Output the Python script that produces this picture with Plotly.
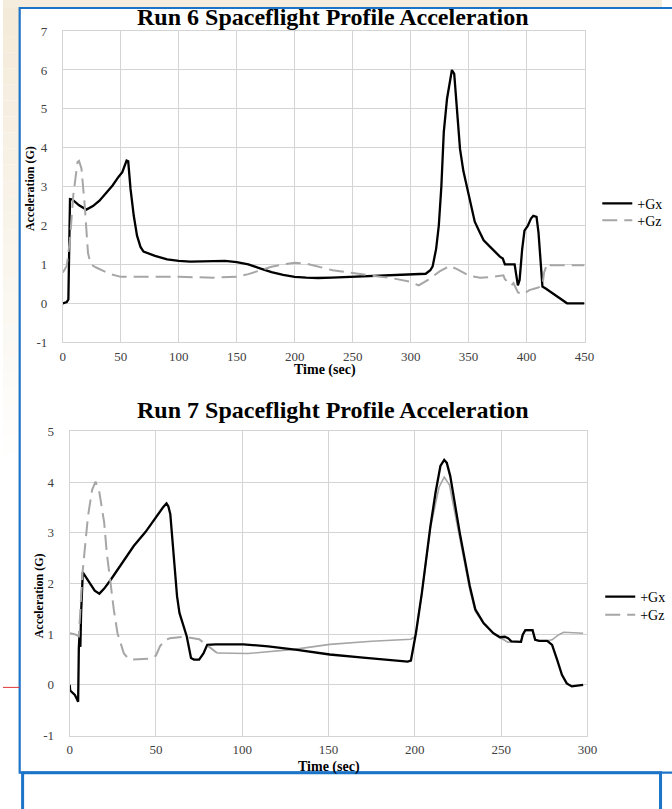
import plotly.graph_objects as go

# ---------------- data: Run 6 ----------------
run6_gx_t = [0, 3.4, 4.8, 5.4, 5.8, 6.2, 8.2, 14, 20.3, 26, 31.6, 37, 42.9, 48, 51.3, 55, 56.4,
             58.4, 61.2, 64, 67, 69.6, 79.5, 90, 100, 110, 120, 130, 140, 150, 160, 170, 180,
             190, 200, 210, 220, 232, 250, 270, 290, 300, 313, 317, 319, 322, 324.3, 326.5,
             328.6, 331.4, 334, 335.6, 337.6, 339.5, 342.6, 345.5, 348.3, 352, 355.3, 359.6,
             363, 368.6, 374.2, 377, 379.5, 381.3, 386.9, 389.7, 392.5, 394, 396.2, 398.2,
             401, 403.8, 405.8, 408.6, 410.3, 412.3, 413.7, 416.5, 423.6, 434.9, 450]
run6_gx_v = [0, 0.03, 0.1, 0.9, 1.8, 2.68, 2.67, 2.52, 2.41, 2.5, 2.64, 2.82, 3.03, 3.25, 3.37,
             3.67, 3.65, 2.94, 2.25, 1.74, 1.45, 1.33, 1.22, 1.13, 1.09, 1.07, 1.08, 1.09, 1.09,
             1.06, 1.0, 0.9, 0.8, 0.73, 0.68, 0.66, 0.65, 0.66, 0.68, 0.71, 0.74, 0.75, 0.76,
             0.85, 0.95, 1.4, 2.0, 3.0, 4.4, 5.26, 5.8, 6.0, 5.9, 5.2, 3.97, 3.4, 3.03, 2.5,
             2.1, 1.83, 1.62, 1.45, 1.28, 1.2, 1.15, 1.0, 1.0, 1.0, 0.46, 0.6, 1.39, 1.87, 1.99,
             2.18, 2.25, 2.22, 1.82, 0.96, 0.43, 0.38, 0.23, 0, 0]

run6_gz_t = [0, 3.4, 6.2, 9, 12.7, 14, 16.1, 18.9, 21.7, 24, 28.8, 40, 50, 75, 100, 130, 150,
             160, 170, 180, 190, 200, 210, 220, 232.7, 250, 270, 285, 300, 307, 315, 325, 333.6,
             340, 351, 360, 370.8, 376, 380, 381.3, 384.1, 386.9, 388.7, 391.1, 392.6, 396.8,
             402.4, 409.5, 413.7, 415.1, 417.9, 420.7, 450]
run6_gz_v = [0.79, 0.96, 1.65, 2.77, 3.63, 3.66, 3.46, 2.51, 1.3, 1.0, 0.92, 0.76, 0.68, 0.68,
             0.68, 0.66, 0.68, 0.75, 0.85, 0.94, 1.0, 1.04, 1.02, 0.95, 0.85, 0.78, 0.7, 0.64,
             0.55, 0.46, 0.6, 0.82, 0.96, 0.88, 0.7, 0.66, 0.68, 0.7, 0.72, 0.62, 0.53, 0.46,
             0.52, 0.36, 0.28, 0.23, 0.34, 0.4, 0.45, 0.79, 1.03, 0.98, 0.98]

# ---------------- data: Run 7 ----------------
run7_gx_t = [0, 0.3, 3, 4.9, 5.3, 5.8, 6.2, 6.6, 7.6, 11.6, 14.5, 17.2, 20, 23.9, 30, 37.1, 44,
             50.4, 54, 56.1, 57.2, 58.3, 60.8, 62.2, 63.6, 66.5, 67.8, 70.3, 72, 75, 77.5, 79.7,
             84.5, 100.6, 115, 131.8, 150.7, 170, 185, 195.8, 197.7, 200.6, 204, 209, 212,
             214.8, 217, 218.5, 220.5, 226, 231.8, 235, 239.8, 245.5, 249.3, 252.1, 254, 255.9,
             261.5, 262.5, 264, 268.2, 269.7, 272, 276.7, 279.5, 282.4, 285.2, 288, 290.9, 297.5]
run7_gx_v = [0, -0.11, -0.2, -0.33, 0.73, 1.05, 0.75, 1.4, 2.22, 2.01, 1.86, 1.8, 1.9, 2.08,
             2.38, 2.74, 3.02, 3.33, 3.5, 3.58, 3.52, 3.37, 2.21, 1.75, 1.42, 1.09, 0.96, 0.53,
             0.5, 0.5, 0.62, 0.79, 0.8, 0.8, 0.76, 0.69, 0.6, 0.54, 0.49, 0.46, 0.48, 1.02, 1.8,
             3.13, 3.8, 4.32, 4.44, 4.38, 4.12, 3.0, 1.95, 1.49, 1.22, 1.02, 0.94, 0.95, 0.92,
             0.86, 0.85, 0.99, 1.08, 1.08, 0.89, 0.87, 0.87, 0.79, 0.5, 0.2, 0.03, -0.03, 0.0]

# Gz of Run 7: first part drawn dashed, later part rendered as a thin solid line
run7_gz_t = [0, 2.8, 5.3, 7.4, 10.6, 13, 15, 17.2, 20, 21.5, 23.9, 25.5, 27.7, 29.5, 31.4, 34,
             36.2, 47.5, 50, 52.3, 55, 58, 66.5, 75, 80.7, 85.4,
             103.4, 130, 150.7, 175, 197.7, 200, 201, 204, 209, 214, 217, 220, 226, 232, 235,
             240, 245.5, 249.3, 252, 254, 256, 261.5, 262.5, 264, 268.2, 269.7, 272, 276.7,
             279.5, 283.4, 286.2, 297.5]
run7_gz_v = [1.02, 1.0, 0.96, 2.2, 3.33, 3.85, 4.01, 3.8, 3.2, 2.6, 1.95, 1.5, 1.02, 0.8, 0.62,
             0.52, 0.5, 0.52, 0.58, 0.76, 0.88, 0.92, 0.95, 0.9, 0.76, 0.63,
             0.62, 0.7, 0.8, 0.86, 0.9, 0.95, 1.1, 1.8, 3.1, 3.9, 4.1, 3.95, 2.9, 1.85, 1.45,
             1.2, 1.0, 0.92, 0.88, 0.84, 0.85, 0.85, 0.99, 1.07, 1.07, 0.89, 0.87, 0.87, 0.89,
             0.99, 1.04, 1.02]
run7_gz_dash_end = 85.4

titles = ["Run 6 Spaceflight Profile Acceleration", "Run 7 Spaceflight Profile Acceleration"]
x_title = "Time (sec)"
y_title = "Acceleration (G)"
series_names = ["+Gx", "+Gz"]
run6_yticks = [-1, 0, 1, 2, 3, 4, 5, 6, 7]
run7_yticks = [-1, 0, 1, 2, 3, 4, 5]
run6_xticks = [0, 50, 100, 150, 200, 250, 300, 350, 400, 450]
run7_xticks = [0, 50, 100, 150, 200, 250, 300]

# ---------------- layout helpers ----------------
W, H = 672, 809
# the page is photographed slightly compressed vertically; compensate target rows
VSCALE, VOFF = 0.978, 9.0

def px(x):
    return x / W

def py(t):
    y = (t - VOFF) / VSCALE
    return 1 - y / H

SERIF = "Liberation Serif, Times New Roman, serif"
BLACK = "#000000"
GRAY = "#a6a6a6"
GRID = "#d4d4d4"
BLUE = "#1c74c8"
DASH = "15px,7px"

fig = go.Figure()

fig.add_trace(go.Scatter(x=run6_gx_t, y=run6_gx_v, mode="lines", name=series_names[0],
                         line=dict(color=BLACK, width=2.3), xaxis="x", yaxis="y", legend="legend"))
fig.add_trace(go.Scatter(x=run6_gz_t, y=run6_gz_v, mode="lines", name=series_names[1],
                         line=dict(color=GRAY, width=2, dash=DASH), xaxis="x", yaxis="y", legend="legend3"))

split = run7_gz_t.index(run7_gz_dash_end)
fig.add_trace(go.Scatter(x=run7_gz_t[split:], y=run7_gz_v[split:], mode="lines", name=series_names[1],
                         line=dict(color=GRAY, width=1.6), xaxis="x2", yaxis="y2",
                         legend="legend4", showlegend=False))
fig.add_trace(go.Scatter(x=run7_gx_t, y=run7_gx_v, mode="lines", name=series_names[0],
                         line=dict(color=BLACK, width=2.3), xaxis="x2", yaxis="y2", legend="legend2"))
fig.add_trace(go.Scatter(x=run7_gz_t[:split + 1], y=run7_gz_v[:split + 1], mode="lines", name=series_names[1],
                         line=dict(color=GRAY, width=2, dash=DASH), xaxis="x2", yaxis="y2", legend="legend4"))

tickfont = dict(family=SERIF, size=13, color="#404040")
common_x = dict(showgrid=True, gridcolor=GRID, gridwidth=1, zeroline=False, showline=True,
                linecolor=GRID, mirror=True, ticks="", tickfont=tickfont,
                ticklabelstandoff=2, fixedrange=True)
common_y = dict(showgrid=True, gridcolor=GRID, gridwidth=1, zeroline=False, showline=True,
                linecolor=GRID, mirror=True, ticks="", tickfont=tickfont,
                ticklabelstandoff=12, fixedrange=True)

def lab(v):
    return "-" + str(abs(v)) if v < 0 else str(v)

# background decoration: beige gradient strips, blue frames, red mark
shapes = []
steps = 30
for i in range(steps):
    f = i / (steps - 1)
    r = int(244 + (255 - 244) * f)
    g = int(234 + (255 - 234) * f)
    b = int(216 + (255 - 216) * f)
    t0 = -10 + 480 * i / steps
    t1 = -10 + 480 * (i + 1) / steps
    shapes.append(dict(type="rect", xref="paper", yref="paper", x0=px(0), x1=px(17),
                       y0=py(t1), y1=py(t0), line=dict(width=0), fillcolor=f"rgb({r},{g},{b})",
                       layer="below"))
shapes.append(dict(type="rect", xref="paper", yref="paper", x0=px(0), x1=px(W), y0=py(10), y1=py(-10),
                   line=dict(width=0), fillcolor="rgb(244,236,221)", layer="below"))
shapes.append(dict(type="rect", xref="paper", yref="paper", x0=px(17), x1=px(W + 20), y0=py(772), y1=py(10),
                   line=dict(color=BLUE, width=2.2), fillcolor="rgba(0,0,0,0)", layer="below"))
shapes.append(dict(type="rect", xref="paper", yref="paper", x0=px(20), x1=px(670.5), y0=py(H + 30), y1=py(772),
                   line=dict(color=BLUE, width=3), fillcolor="rgba(0,0,0,0)", layer="below"))
shapes.append(dict(type="line", xref="paper", yref="paper", x0=px(0), x1=px(17), y0=py(687), y1=py(687),
                   line=dict(color="#e0363a", width=1), layer="below"))

ann = []
tfont = dict(family=SERIF, size=24, color="#000000")
ann.append(dict(text="<b>" + titles[0] + "</b>", xref="paper", yref="paper", x=px(336), y=py(19),
                xanchor="center", yanchor="middle", showarrow=False, font=tfont))
ann.append(dict(text="<b>" + titles[1] + "</b>", xref="paper", yref="paper", x=px(336), y=py(411),
                xanchor="center", yanchor="middle", showarrow=False, font=tfont))
afont = dict(family=SERIF, size=14, color="#000000")
ann.append(dict(text="<b>" + x_title + "</b>", xref="paper", yref="paper", x=px(328), y=py(371),
                xanchor="center", yanchor="middle", showarrow=False, font=afont))
ann.append(dict(text="<b>" + x_title + "</b>", xref="paper", yref="paper", x=px(332), y=py(766),
                xanchor="center", yanchor="middle", showarrow=False, font=afont))
yfont = dict(family=SERIF, size=12, color="#000000")
ann.append(dict(text="<b>" + y_title + "</b>", xref="paper", yref="paper", x=px(27), y=py(190),
                xanchor="center", yanchor="middle", showarrow=False, font=yfont, textangle=-90))
ann.append(dict(text="<b>" + y_title + "</b>", xref="paper", yref="paper", x=px(37), y=py(596),
                xanchor="center", yanchor="middle", showarrow=False, font=yfont, textangle=-90))

legfont = dict(family=SERIF, size=14, color="#000000")
def legend_at(xp, tp):
    return dict(x=px(xp), y=py(tp), xanchor="left", yanchor="middle", font=legfont,
                bgcolor="rgba(0,0,0,0)", borderwidth=0, tracegroupgap=0, itemwidth=30,
                traceorder="normal")

fig.update_layout(
    width=W, height=H, autosize=False,
    margin=dict(l=0, r=0, t=0, b=0, pad=0),
    paper_bgcolor="#ffffff", plot_bgcolor="#ffffff",
    xaxis=dict(domain=[px(61), px(593)], range=[0, 450], anchor="y",
               tickvals=run6_xticks, ticktext=[lab(v) for v in run6_xticks], **common_x),
    yaxis=dict(domain=[py(343), py(33)], range=[-1, 7], anchor="x",
               tickvals=run6_yticks, ticktext=[lab(v) for v in run6_yticks], **common_y),
    xaxis2=dict(domain=[px(68), px(596)], range=[0, 300], anchor="y2",
                tickvals=run7_xticks, ticktext=[lab(v) for v in run7_xticks], **common_x),
    yaxis2=dict(domain=[py(735), py(432)], range=[-1, 5], anchor="x2",
                tickvals=run7_yticks, ticktext=[lab(v) for v in run7_yticks], **common_y),
    legend=legend_at(606, 205),
    legend3=legend_at(606, 222),
    legend2=legend_at(609, 597),
    legend4=legend_at(609, 615),
    shapes=shapes,
    annotations=ann,
    showlegend=True,
)

fig.write_html("out.html", config={"displayModeBar": False})
